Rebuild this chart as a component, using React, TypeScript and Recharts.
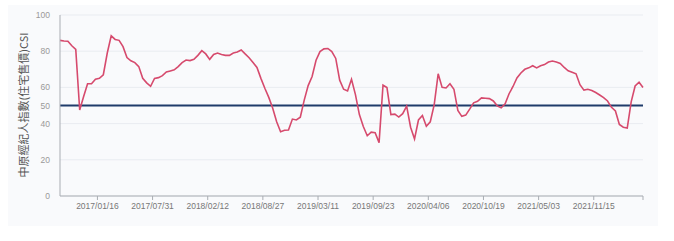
import { LineChart, Line, XAxis, YAxis, CartesianGrid, ReferenceLine } from "recharts";

// weekly index from 2016/09/05, one reading every 2 weeks
const WEEK_STEP = 2;
const csiValues = [
  86, 85.6, 85.5, 83, 81, 47.5, 55, 62, 62, 64.5,
  65, 67, 79, 88.5, 86.5, 86, 82.5, 76.5, 74.7, 73.7,
  71.5, 65, 62.5, 60.6, 65, 65.4, 66.5, 68.5, 69.1, 69.7,
  71.5, 73.7, 75.1, 74.8, 75.5, 77.7, 80.3, 78.5, 75.5, 78.2,
  79, 78.2, 77.7, 77.7, 79, 79.6, 80.7, 78.5, 76.4, 73.7,
  71, 65, 59.5, 54.5, 48.5, 41, 35.5, 36.3, 36.5, 42.5,
  42, 43.5, 53, 61, 66, 75, 79.8, 81.3, 81.5, 79.8,
  76, 64, 59, 58, 64.5, 56, 45, 38.4, 33.3, 35.3,
  35, 29.5, 61.2, 59.9, 45, 45.2, 43.6, 45.5, 49.6, 38,
  31.5, 42, 44.5, 38.5, 41, 50.5, 67.5, 60, 59.7, 62,
  59, 47.3, 44, 44.7, 48, 51.5, 52.3, 54.2, 54, 53.8,
  52.5, 49.8, 48.7, 51, 56.5, 60.5, 65.2, 68, 70, 70.8,
  72, 70.8, 72, 72.6, 74, 74.6, 74, 73.2, 71, 69.2,
  68.4, 67.5, 61.5, 58.5, 59, 58.3, 57.2, 55.8, 54.4, 52.5,
  49, 47, 39.5, 38, 37.5, 52, 60.8, 62.9, 60,
];

const tickWeeks = [19, 47, 75, 103, 131, 159, 187, 215, 243, 271, 296];
const tickLabels = [
  "2017/01/16", "2017/07/31", "2018/02/12", "2018/08/27", "2019/03/11",
  "2019/09/23", "2020/04/06", "2020/10/19", "2021/05/03", "2021/11/15", "",
];
const yTicks = [0, 20, 40, 50, 60, 80, 100];
const THRESHOLD = 50;
const Y_LABEL = "中原經紀人指數(住宅售價)CSI";

const data = csiValues.map((v, i) => ({ w: i * WEEK_STEP, csi: v }));

function fmtWeek(w: number): string {
  const i = tickWeeks.indexOf(w);
  return i >= 0 ? tickLabels[i] : "";
}

export default function App() {
  return (
    <div style={{ position: "absolute", left: 0, top: 0, width: 674, height: 241, background: "#fff" }}>
      <div
        style={{
          position: "absolute",
          left: 8,
          top: 5,
          width: 650,
          height: 221,
          background: "#f9fafc",
        }}
      />
      <div style={{ position: "absolute", left: 0, top: 0 }}>
        <LineChart
          width={674}
          height={241}
          data={data}
          margin={{ top: 15, right: 31, bottom: 15, left: 0 }}
        >
          <CartesianGrid vertical={false} stroke="#e9ecf1" />
          <XAxis
            dataKey="w"
            type="number"
            domain={[0, 296]}
            ticks={tickWeeks}
            tickFormatter={fmtWeek}
            interval={0}
            height={30}
            tick={{ fontSize: 8.5, fill: "#777", fontFamily: "Liberation Sans, Arial, sans-serif" }}
            tickSize={4}
            tickMargin={3}
            stroke="#a9adb3"
          />
          <YAxis
            type="number"
            domain={[0, 100]}
            ticks={yTicks}
            interval={0}
            width={60}
            tick={{ fontSize: 8.5, fill: "#999", fontFamily: "Liberation Sans, Arial, sans-serif" }}
            tickLine={false}
            tickMargin={4}
            stroke="#a9adb3"
            label={{
              content: () => (
                <text
                  x={23}
                  y={105}
                  transform="rotate(-90 23 105)"
                  textAnchor="middle"
                  dominantBaseline="central"
                  fontSize={11}
                  fill="#555"
                  fontFamily="Noto Sans CJK TC, sans-serif"
                >
                  {Y_LABEL}
                </text>
              ),
            }}
          />
          <ReferenceLine y={THRESHOLD} stroke="#1f3b6a" strokeWidth={1.8} ifOverflow="extendDomain" />
          <Line
            type="linear"
            dataKey="csi"
            stroke="#d64a6d"
            strokeWidth={1.6}
            dot={false}
            isAnimationActive={false}
          />
        </LineChart>
      </div>
    </div>
  );
}
